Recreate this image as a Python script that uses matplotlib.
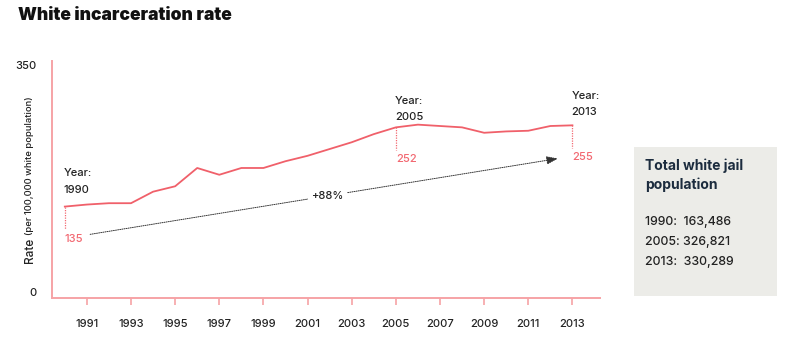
import matplotlib
matplotlib.use("Agg")
import matplotlib.pyplot as plt
from matplotlib.patches import Rectangle

plt.rcParams['font.family'] = ['Inter', 'DejaVu Sans']
plt.rcParams['font.weight'] = 'medium'

# ---- data
years = list(range(1990, 2014))
rate = [135, 138, 140, 140, 157, 165, 192, 182, 192, 192, 202, 210,
        220, 230, 242, 252, 256, 254, 252, 244, 246, 247, 254, 255]
callout_years = [1990, 2005, 2013]
callout_values = [135, 252, 255]
tick_years = list(range(1991, 2014, 2))
jail_pop_years = ["1990", "2005", "2013"]
jail_pop = ["163,486", "326,821", "330,289"]
change_label = "+88%"

LINE = "#f0606a"
SPINE = "#f6a3a6"
LABEL_RED = "#f26871"
DARK = "#222222"
NAVY = "#1c2c3e"

fig = plt.figure(figsize=(7.9, 3.37), dpi=100)
ax = fig.add_axes([52 / 790, 1 - 298 / 337, (600 - 52) / 790, (298 - 61) / 337])

ax.plot(years, rate, color=LINE, linewidth=1.3, solid_joinstyle="round", zorder=3)

ax.set_xlim(1989.42, 2014.25)
ax.set_ylim(0, 350)
for s in ["top", "right"]:
    ax.spines[s].set_visible(False)
for s in ["left", "bottom"]:
    ax.spines[s].set_color(SPINE)
    ax.spines[s].set_linewidth(1.4)

ax.set_xticks(tick_years)
ax.set_xticklabels([str(y) for y in tick_years])
ax.set_yticks([0, 350])
ax.tick_params(axis="x", colors=SPINE, length=5, width=1.2, pad=10, labelsize=8, labelcolor=DARK)
ax.tick_params(axis="y", length=0, pad=11, labelsize=8, labelcolor=DARK)
for lbl in ax.get_yticklabels():
    lbl.set_va("top")
ax.get_yticklabels()[0].set_va("bottom")

# ---- callouts: year label above, value below with dotted drop line
year_offsets = [14, 7, 10]
for yr, val, off in zip(callout_years, callout_values, year_offsets):
    ax.plot([yr, yr], [val, val - 33], color=LABEL_RED, linestyle=(0, (1, 1)),
            linewidth=0.9, zorder=2)
    ax.annotate(f"Year:\n{yr}", xy=(yr, val), xytext=(-1, off), textcoords="offset pixels",
                ha="left", va="baseline", fontsize=8, color=DARK, linespacing=1.8)
    ax.annotate(str(val), xy=(yr, val), xytext=(0, -32), textcoords="offset pixels",
                ha="left", va="center", fontsize=8, color=LABEL_RED)

# ---- growth arrow
x0, y0, x1, y1 = 1991.15, 94, 2012.35, 206
ax.annotate("", xy=(x1, y1), xytext=(x0, y0),
            arrowprops=dict(arrowstyle="-|>,head_length=0.7,head_width=0.25",
                            color="#333333", linestyle=(0, (1, 1.2)), linewidth=0.7,
                            shrinkA=0, shrinkB=0))
xm = 2001.9
ym = y0 + (y1 - y0) * (xm - x0) / (x1 - x0)
ax.text(xm, ym, change_label, ha="center", va="center", fontsize=8, color=DARK,
        bbox=dict(facecolor="white", edgecolor="none", pad=2.5), zorder=4)

# ---- y-axis label
rate_txt = fig.text(30 / 790, 1 - 263 / 337, "Rate", rotation=90, ha="center", va="bottom",
                    fontsize=8.5, color=DARK)
fig.canvas.draw()
ax.annotate("(per 100,000 white population)", xy=(0.5, 1), xycoords=rate_txt,
            xytext=(0, 3), textcoords="offset pixels", rotation=90,
            ha="center", va="bottom", fontsize=6.8, color=DARK, annotation_clip=False)

# ---- title
fig.text(18 / 790, 1 - 16 / 337, "White incarceration rate", ha="left", va="center",
         fontsize=12.6, fontweight="black", color="#111111")

# ---- side panel
fig.patches.append(Rectangle((634 / 790, 1 - 296 / 337), 143 / 790, 149 / 337,
                             transform=fig.transFigure, facecolor="#ecece8",
                             edgecolor="none", zorder=0))
fig.text(645 / 790, 1 - 175 / 337, "Total white jail\npopulation", ha="left", va="center",
         fontsize=10, fontweight="bold", color=NAVY, linespacing=1.4)
for i, (yr, pop) in enumerate(zip(jail_pop_years, jail_pop)):
    gap = "  " if yr != "2005" else " "
    fig.text(645 / 790, 1 - (222 + 20 * i) / 337, f"{yr}:{gap}{pop}", ha="left", va="center",
             fontsize=8.9, color=DARK)

fig.savefig("out.png", dpi=100)
